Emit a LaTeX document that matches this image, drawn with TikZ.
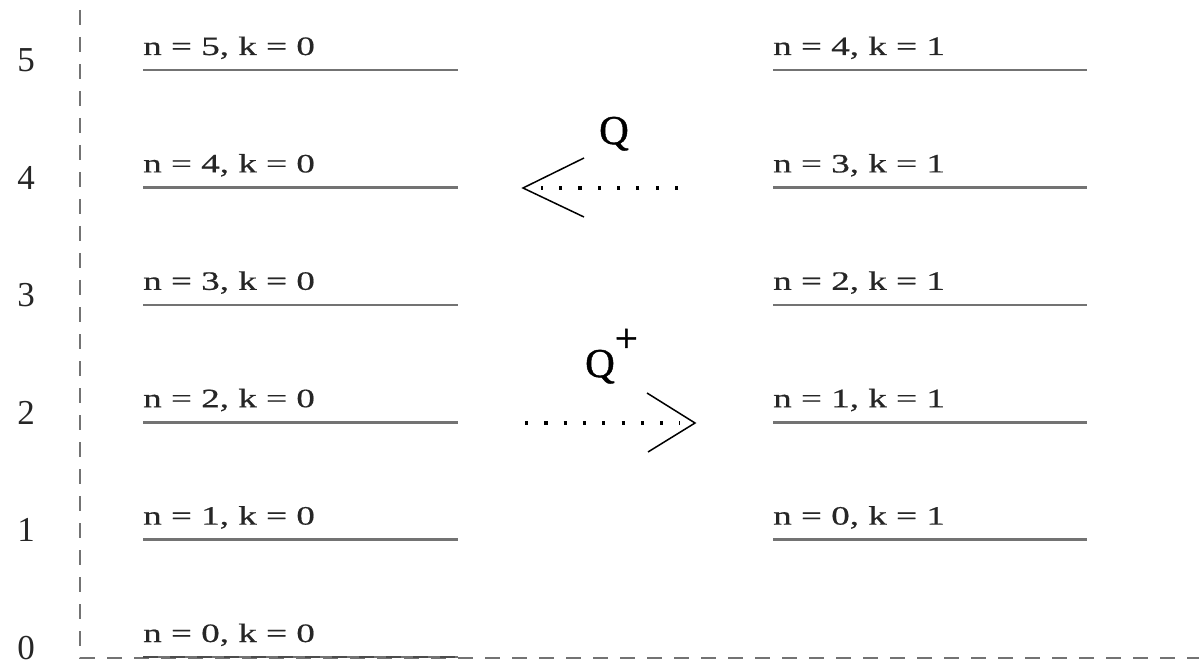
\documentclass[tikz,border=0pt]{standalone}
\usepackage{fontspec}
\setmainfont{Liberation Serif}
\newfontfamily\labfont[FakeStretch=1.4,FakeBold=0.6]{Liberation Serif}
\newfontfamily\qfont[FakeBold=1]{Liberation Serif}
\begin{document}
\begin{tikzpicture}[x=1pt,y=-1pt,
  level/.style={draw=black!55,line width=2.6pt},
  axisline/.style={draw=black!55,line width=1.8pt,dash pattern=on 15pt off 12pt},
  lab/.style={anchor=base west,inner sep=0pt,font=\labfont\fontsize{26.5}{30}\selectfont,text=black!85},
  num/.style={anchor=base,inner sep=0pt,font=\rmfamily\fontsize{35}{40}\selectfont,text=black!85},
  qlab/.style={anchor=base,inner sep=0pt,font=\qfont\fontsize{41}{46}\selectfont},
  dots/.style={draw=black,line width=3.4pt,dash pattern=on 3.2pt off 16.1pt},
  chev/.style={draw=black,line width=1.5pt}]
\useasboundingbox (0,0) rectangle (1199,668);
% axes
\coordinate (atop) at (80,10);
\coordinate (aorig) at (80,658);
\coordinate (aend) at (1199,658);
\draw[axisline] (atop) -- (aorig) -- (aend);
% axis numbers
\foreach \i/\yy in {5/72,4/189.4,3/306.8,2/424.2,1/541.6,0/659}{
  \node[num] (num\i) at (26,\yy) {\i};
}
% left levels
\foreach \n/\yy in {5/70,4/187.4,3/304.8,2/422.2,1/539.6,0/657}{
  \coordinate (L\n a) at (143,\yy);
  \coordinate (L\n b) at (458,\yy);
  \draw[level] (L\n a) -- (L\n b);
  \node[lab] (Ltxt\n) at (143,\yy-15) {n = \n, k = 0};
}
\draw[axisline,draw=black!70] (L0a) -- (L0b);
% right levels
\foreach \n/\yy in {4/70,3/187.4,2/304.8,1/422.2,0/539.6}{
  \coordinate (R\n a) at (773,\yy);
  \coordinate (R\n b) at (1087,\yy);
  \draw[level] (R\n a) -- (R\n b);
  \node[lab] (Rtxt\n) at (773,\yy-15) {n = \n, k = 1};
}
% Q arrow (left)
\coordinate (qtip) at (523,188);
\coordinate (qu) at (584,158);
\coordinate (qd) at (584,217);
\coordinate (qs) at (678,188);
\coordinate (qe) at (541,188);
\draw[dots] (qs) -- (qe);
\draw[chev] (qu) -- (qtip) -- (qd);
\node[qlab] (Q) at (614,144) {Q};
% Q+ arrow (right)
\coordinate (ptip) at (695,423);
\coordinate (pu) at (647,393);
\coordinate (pd) at (648,452);
\coordinate (ps) at (525,423);
\coordinate (pe) at (680,423);
\draw[dots] (ps) -- (pe);
\draw[chev] (pu) -- (ptip) -- (pd);
\node[qlab,anchor=base west] (Qp) at (585,377) {Q\raisebox{25pt}{+}};
\end{tikzpicture}
\end{document}
